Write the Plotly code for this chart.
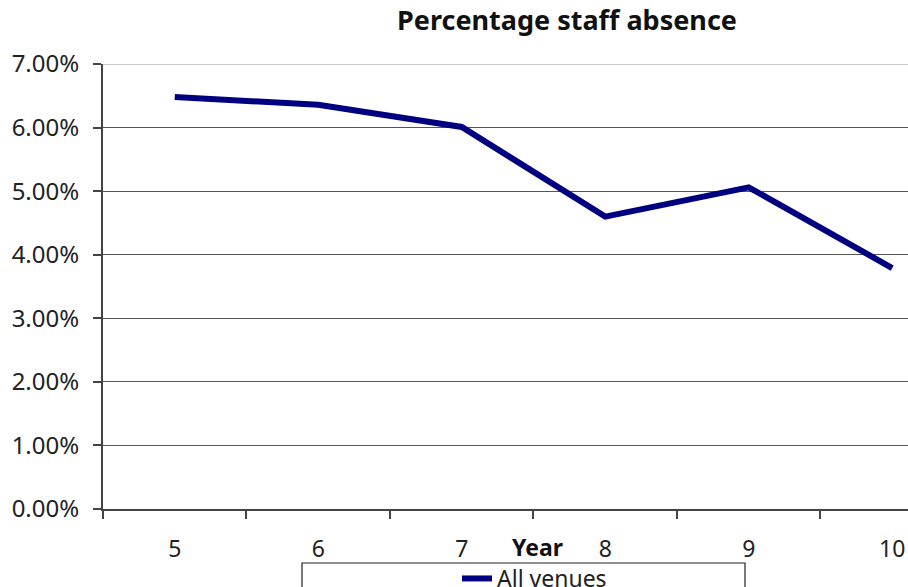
import plotly.graph_objects as go

years = ["5", "6", "7", "8", "9", "10"]
absence_pct = [6.48, 6.36, 6.01, 4.60, 5.06, 3.79]
y_ticks = [0, 1, 2, 3, 4, 5, 6, 7]
y_tick_labels = [f"{v:.2f}%" for v in y_ticks]

FONT = "Noto Sans"
PL, PR, PT, PB = 103, 908, 64, 509  # plot area in page pixels
W, H = 908, 587


def px_x(p):
    return (p - PL) / (PR - PL)


def px_y(p):
    return (PB - p) / (PB - PT)


fig = go.Figure()
fig.add_trace(go.Scatter(
    x=years, y=absence_pct, mode="lines", name="All venues",
    line=dict(color="#000080", width=6), showlegend=True,
))

fig.update_layout(
    width=W, height=H,
    margin=dict(l=PL, r=W - PR, t=PT, b=H - PB, autoexpand=False),
    paper_bgcolor="white", plot_bgcolor="white",
    title=dict(text="<b>Percentage staff absence</b>", xref="container", x=567 / W,
               xanchor="center", y=1 - 21 / H, yanchor="middle",
               font=dict(family=FONT, size=27, color="#111")),
    font=dict(family=FONT, size=23, color="#222"),
    xaxis=dict(
        type="category", range=[-0.5, 5.11], tickson="boundaries",
        ticks="outside", ticklen=8, tickcolor="#444", tickwidth=1.5,
        showline=True, linecolor="#444", linewidth=2, showgrid=False,
        ticklabelstandoff=18, tickfont=dict(family=FONT, size=23, color="#222"),
    ),
    yaxis=dict(
        range=[0, 7], tickvals=y_ticks, ticktext=y_tick_labels,
        ticks="outside", ticklen=8, tickcolor="#444", tickwidth=1.5,
        showline=True, linecolor="#444", linewidth=2,
        showgrid=True, gridcolor="#555", gridwidth=1.3, zeroline=False,
        ticklabelstandoff=9, tickfont=dict(family=FONT, size=24, color="#222"),
    ),
    legend=dict(
        orientation="h", x=px_x(457), xanchor="left",
        y=px_y(557), yanchor="top", borderwidth=0,
        bgcolor="rgba(0,0,0,0)", font=dict(family=FONT, size=23, color="#222"),
    ),
    annotations=[dict(text="<b>Year</b>", xref="paper", yref="paper",
                      x=px_x(537), y=px_y(547), xanchor="center", yanchor="middle",
                      showarrow=False, font=dict(family=FONT, size=23, color="#111"))],
    shapes=[
        dict(type="line", xref="paper", yref="y", x0=0, x1=1, y0=7, y1=7,
             line=dict(color="#b8b8b8", width=1.5), layer="above"),
        dict(type="rect", xref="paper", yref="paper",
             x0=px_x(302), x1=px_x(745), y0=px_y(563), y1=px_y(640),
             line=dict(color="#222", width=1.2), fillcolor="rgba(0,0,0,0)"),
    ],
)

fig.write_html(
    "out.html",
    config={"displayModeBar": False},
    post_script="document.body.style.margin='0';document.body.style.overflow='hidden';",
)
